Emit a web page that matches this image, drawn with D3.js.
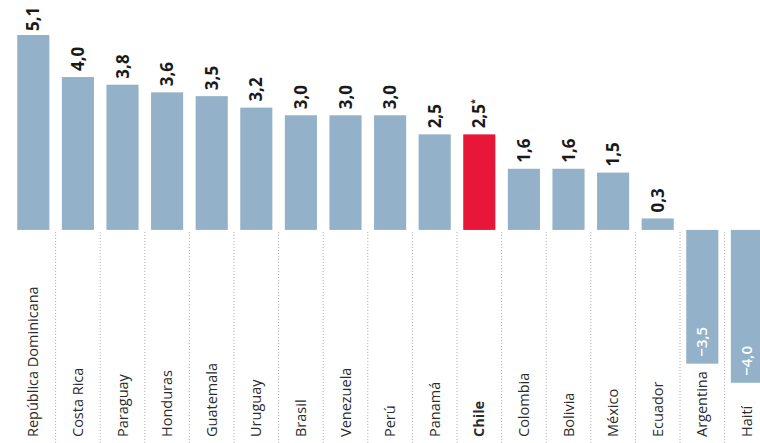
<!DOCTYPE html>
<html><head><meta charset="utf-8">
<script src="https://cdn.jsdelivr.net/npm/d3@7/dist/d3.min.js"></script>
<style>body{margin:0;background:#fff}svg{display:block}</style>
</head><body><svg id="c" width="760" height="443"></svg>
<script>
const countries = ["República Dominicana","Costa Rica","Paraguay","Honduras","Guatemala","Uruguay","Brasil","Venezuela","Perú","Panamá","Chile","Colombia","Bolivia","México","Ecuador","Argentina","Haití"];
const values = [5.1,4.0,3.8,3.6,3.5,3.2,3.0,3.0,3.0,2.5,2.5,1.6,1.6,1.5,0.3,-3.5,-4.0];
const highlight = "Chile";
const notes = {"Chile":"*"};

const svg = d3.select("#c");
const font = "'Open Sans', 'Noto Sans', sans-serif";
const x = d3.scaleBand().domain(countries).range([11, 11 + 17*44.6]).paddingInner(0.28).paddingOuter(0.14);
const y = d3.scaleLinear().domain([-4, 5.1]).range([382.8, 35]);
const fmt = v => d3.format(".1f")(v).replace(".", ",").replace("-", "−");

// separators
svg.append("g").selectAll("line").data(countries.slice(0, -1)).join("line")
  .attr("x1", d => x(d) + x.bandwidth() + x.step()*x.paddingInner()/2)
  .attr("x2", d => x(d) + x.bandwidth() + x.step()*x.paddingInner()/2)
  .attr("y1", y(0) + 2).attr("y2", 443)
  .attr("stroke", "#a8a8a8").attr("stroke-width", 1).attr("stroke-dasharray", "1,2");

// bars
svg.append("g").selectAll("rect").data(countries).join("rect")
  .attr("x", d => x(d)).attr("width", x.bandwidth())
  .attr("y", (d,i) => y(Math.max(0, values[i])))
  .attr("height", (d,i) => Math.abs(y(values[i]) - y(0)))
  .attr("fill", d => d === highlight ? "#e8173a" : "#93b2c9");

// value labels
const vl = svg.append("g").selectAll("text").data(countries).join("text")
  .attr("transform", (d,i) => {
    const v = values[i];
    const cx = x(d) + x.bandwidth()/2 + (v >= 0 ? 6 : 5);
    const yy = v >= 0 ? Math.max(y(v) - 6, 31) : y(v) - 7;
    return `translate(${cx},${yy}) rotate(-90)`;
  })
  .attr("text-anchor", "start")
  .attr("font-family", font)
  .attr("font-weight", (d,i) => values[i] >= 0 ? 700 : 600)
  .attr("font-size", (d,i) => values[i] >= 0 ? 17 : 15)
  .attr("fill", (d,i) => values[i] >= 0 ? "#1a1a1a" : "#ffffff");
vl.append("tspan").text((d,i) => fmt(values[i]));
vl.filter(d => notes[d]).append("tspan").attr("font-size", 9).attr("dy", -7).text(d => notes[d]);

// category labels
svg.append("g").selectAll("text").data(countries).join("text")
  .attr("transform", d => `translate(${x(d) + x.bandwidth()/2 + 5},437) rotate(-90)`)
  .attr("text-anchor", "start")
  .attr("font-family", font)
  .attr("font-size", 14.5)
  .attr("font-weight", d => d === highlight ? 700 : 400)
  .attr("fill", "#2b2b2b")
  .text(d => d);
</script></body></html>
